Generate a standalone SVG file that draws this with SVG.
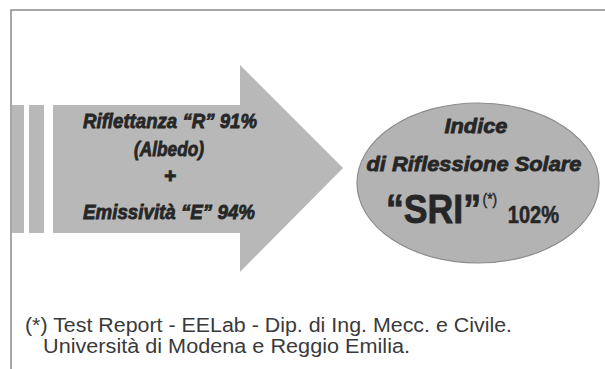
<svg xmlns="http://www.w3.org/2000/svg" width="605" height="369" viewBox="0 0 605 369">
<style>
.frame{stroke:#8a8a8a;stroke-width:1.5;fill:none}
.shape{fill:#b8b8b8}
.hd{font-family:"Liberation Sans",Arial,sans-serif;font-weight:bold;font-style:italic;fill:#262626;stroke:#262626;stroke-width:0.8;text-anchor:middle}
.sri{font-family:"Liberation Sans",Arial,sans-serif;font-weight:bold;fill:#262626;stroke:#262626;stroke-width:0.8}
.note{font-family:"Liberation Sans",Arial,sans-serif;font-size:20px;fill:#3a3a3a}
</style>
<rect width="605" height="369" fill="#ffffff"/>
<path class="frame" d="M11,369 V10 H605"/>
<g id="arrow">
<rect class="shape" x="12" y="105" width="12" height="128"/>
<rect class="shape" x="29" y="105" width="15" height="128"/>
<polygon class="shape" points="53,105 240,105 240,65 343,168 240,272 240,233 53,233"/>
<text class="hd" font-size="21" x="170" y="128" textLength="174" lengthAdjust="spacingAndGlyphs">Riflettanza “R” 91%</text>
<text class="hd" font-size="21" x="169" y="156" textLength="70" lengthAdjust="spacingAndGlyphs">(Albedo)</text>
<text class="hd" font-size="21" x="170" y="183">+</text>
<text class="hd" font-size="21" x="169" y="219" textLength="172" lengthAdjust="spacingAndGlyphs">Emissività “E” 94%</text>
</g>
<g id="sri">
<ellipse cx="478" cy="183" rx="121" ry="80" fill="#b3b3b3" stroke="#8c8c8c" stroke-width="1.2"/>
<text class="hd" font-size="21" x="476" y="133" textLength="63" lengthAdjust="spacingAndGlyphs">Indice</text>
<text class="hd" font-size="21" x="474" y="171" textLength="215" lengthAdjust="spacingAndGlyphs">di Riflessione Solare</text>
<text class="sri" transform="translate(386,223) scale(0.87,1)" font-size="41" x="0" y="0">“SRI”<tspan x="111" y="-18" font-size="16" font-weight="normal" stroke-width="0.4">(*)</tspan><tspan x="140" y="0" font-size="23" stroke-width="0.5">102%</tspan></text>
</g>
<g id="note">
<text class="note" x="25" y="332" textLength="487" lengthAdjust="spacingAndGlyphs">(*) Test Report - EELab - Dip. di Ing. Mecc. e Civile.</text>
<text class="note" x="43" y="353" textLength="367" lengthAdjust="spacingAndGlyphs">Università di Modena e Reggio Emilia.</text>
</g>
</svg>
